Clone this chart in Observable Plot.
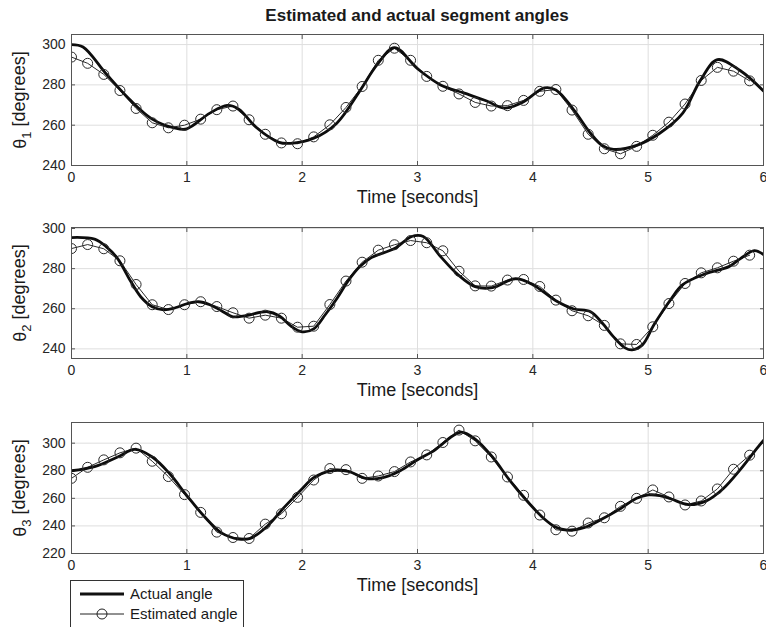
<!DOCTYPE html>
<html>
<head>
<meta charset="utf-8">
<script src="https://cdn.jsdelivr.net/npm/d3@7"></script>
<script src="https://cdn.jsdelivr.net/npm/@observablehq/plot@0.6"></script>
<style>
  body { margin: 0; width: 766px; height: 627px; position: relative; overflow: hidden; background: white;
         font-family: "Liberation Sans", Arial, sans-serif; color: #262626; }
  #title { position: absolute; left: 71px; top: 6px; width: 692px; text-align: center; font-weight: bold; font-size: 17px; line-height: 20px; color: #1a1a1a; }
  .panel { position: absolute; left: 0; }
  #legend { position: absolute; left: 70px; top: 580px; width: 172px; height: 52px; border: 1px solid #333; background: white; }
  #legend .row { position: absolute; left: 0; height: 20px; font-size: 15px; line-height: 20px; }
  #legend svg { position: absolute; left: 0; top: 0; }
  #legend span { position: absolute; left: 59px; top: 0; white-space: nowrap; color: #1a1a1a; }
</style>
</head>
<body>
<div id="title">Estimated and actual segment angles</div>
<div id="p1" class="panel" style="top:24px"></div>
<div id="p2" class="panel" style="top:217.3px"></div>
<div id="p3" class="panel" style="top:411.7px"></div>
<div id="legend">
  <div class="row" style="top:3px">
    <svg width="58" height="20"><line x1="9" x2="53" y1="10" y2="10" stroke="#111" stroke-width="3"/></svg>
    <span>Actual angle</span>
  </div>
  <div class="row" style="top:23px">
    <svg width="58" height="20"><line x1="9" x2="53" y1="10" y2="10" stroke="#222" stroke-width="1"/><circle cx="31" cy="10" r="5" fill="none" stroke="#222" stroke-width="1"/></svg>
    <span>Estimated angle</span>
  </div>
</div>
<script>
// ---- Data ----
const xTicks = [0, 1, 2, 3, 4, 5, 6];
const yTicks12 = [240, 260, 280, 300];
const yTicks3 = [220, 240, 260, 280, 300];
const ySubs = ["1", "2", "3"];
const yUnit = " [degrees]";
const xLabel = "Time [seconds]";

const estTime = [0,0.14,0.28,0.42,0.56,0.70,0.84,0.98,1.12,1.26,1.40,1.54,1.68,1.82,1.96,2.10,2.24,2.38,2.52,2.66,2.80,2.94,3.08,3.22,3.36,3.50,3.64,3.78,3.92,4.06,4.20,4.34,4.48,4.62,4.76,4.90,5.04,5.18,5.32,5.46,5.60,5.74,5.88];

const est1 = [293.8,290.7,285.2,277.2,268.3,261.2,258.7,260,263,267.7,269.5,262.7,255.5,251.2,250.8,254.2,260.2,268.8,279.2,292.2,298.2,292.2,284.2,279.3,275.5,271.3,269.5,269.7,272.3,276.8,277.7,267.5,255.5,248.3,245.8,249.5,255,261.5,270.5,282.2,288.7,286.8,282];
const est2 = [290,292,289.9,283.9,272.1,262,259.6,262,263.5,261.1,258,255.3,256.8,255.3,250.8,251.3,262.1,273.8,283.2,289.2,291.9,294,292.9,288.9,278.7,271.4,271.3,274.3,274.6,271.1,264.3,259,256.5,251.7,242.5,242.2,251,262.6,272.6,277.9,280.4,283.7,286.7];
const est3 = [274.5,282.5,287.9,293,296.4,286.9,275.8,262.7,249.8,235.5,231.6,230.9,241.3,248.8,260.7,273.3,281.6,280.8,274.5,276.2,279.4,286.4,291.5,300.5,309.5,301.7,290,275.5,262.2,247.9,237.2,236.2,242.1,245.9,254.2,260,266.1,261,255.2,258.1,266.8,281.1,291.3];

const act1T = [0,0.1,0.3,0.5,0.7,0.9,1.0,1.2,1.35,1.45,1.6,1.8,1.9,2.1,2.3,2.5,2.65,2.8,3.0,3.2,3.4,3.6,3.75,3.9,4.1,4.2,4.35,4.5,4.6,4.7,4.9,5.1,5.3,5.45,5.6,5.8,6.0];
const act1V = [300,298.8,285.5,273,263,258.5,258.2,266,269.8,268,259,251.5,251,253.5,261,277,290,298.5,288,280,276,272,268.5,271,278.5,277.5,268,256,250,248,250,256,266,282,292.5,287,277];

const act2T = [0,0.2,0.3,0.4,0.5,0.6,0.7,0.8,0.9,1.0,1.1,1.2,1.3,1.4,1.5,1.7,1.8,1.9,2.0,2.1,2.2,2.3,2.4,2.5,2.6,2.8,2.95,3.05,3.2,3.35,3.5,3.65,3.85,4.0,4.2,4.35,4.5,4.6,4.7,4.8,4.86,4.95,5.05,5.2,5.3,5.5,5.7,5.8,5.92,6.0];
const act2V = [295.5,294.7,291,285,275,266,261,259.5,260.5,262.5,263.5,262,259,256,256.5,258.5,256.5,251.5,248.5,250,257,265,274,281,285.5,290,296,296,286,277,271,270.5,275,272,264,260,258.5,253,246,240.5,239.5,242,252,265,272,277.5,281,285,289,287];

const act3T = [0,0.2,0.4,0.55,0.7,0.85,1.0,1.15,1.3,1.45,1.55,1.7,1.85,2.0,2.1,2.25,2.4,2.55,2.7,2.85,3.0,3.15,3.3,3.38,3.5,3.65,3.8,3.95,4.1,4.2,4.3,4.45,4.6,4.75,4.9,5.0,5.1,5.2,5.35,5.5,5.65,5.8,5.95,6.0];
const act3V = [280,283,290,295.5,290,278,262,247,235,230.5,231,240,254,267,275,280,279.5,274.5,275,280,288,295,305,308,303,290,273,258,245,239,237,239,245,252,260,262.5,262,259.5,255.5,258,267,281,297,302];

// ---- Chart ----
function panel(actT, actV, est, yDomain, yTicks, sub) {
  const act = actT.map((t, i) => ({t, v: actV[i]}));
  const estD = estTime.map((t, i) => ({t, v: est[i]}));
  const svg = Plot.plot({
    width: 766, height: 194,
    marginTop: 10, marginBottom: 53, marginLeft: 71, marginRight: 3,
    style: {fontFamily: "'Liberation Sans', Arial, sans-serif", fontSize: "14px", color: "#262626", background: "transparent", overflow: "visible"},
    x: {domain: [0, 6]},
    y: {domain: yDomain},
    marks: [
      Plot.gridX(xTicks, {stroke: "#dedede", strokeOpacity: 1}),
      Plot.gridY(yTicks, {stroke: "#dedede", strokeOpacity: 1}),
      Plot.axisX(xTicks, {anchor: "bottom", tickSize: 0, tickPadding: 7, label: null, tickFormat: d => String(d), fontSize: 14}),
      Plot.axisX(xTicks, {anchor: "bottom", tickSize: -4, fill: "none", label: null, stroke: "#555"}),
      Plot.axisX(xTicks, {anchor: "top", tickSize: -4, fill: "none", label: null, stroke: "#555"}),
      Plot.axisY(yTicks, {anchor: "left", tickSize: 0, tickPadding: 6, label: null, tickFormat: d => String(d), fontSize: 14}),
      Plot.axisY(yTicks, {anchor: "left", tickSize: -4, fill: "none", label: null, stroke: "#555"}),
      Plot.axisY(yTicks, {anchor: "right", tickSize: -4, fill: "none", label: null, stroke: "#555"}),
      Plot.line(estD, {x: "t", y: "v", stroke: "#2a2a2a", strokeWidth: 1, clip: true}),
      Plot.line(act, {x: "t", y: "v", stroke: "#0d0d0d", strokeWidth: 2.8, curve: "catmull-rom", clip: true}),
      Plot.dot(estD, {x: "t", y: "v", r: 5, stroke: "#2a2a2a", strokeWidth: 1, fill: "none", clip: true}),
      Plot.frame({stroke: "#555", strokeWidth: 1}),
      Plot.text([xLabel], {frameAnchor: "bottom", dy: 32, fontSize: 18, lineAnchor: "middle", fill: "#1a1a1a"}),
      Plot.text(["θ" + sub + yUnit], {frameAnchor: "left", dx: -51, rotate: -90, fontSize: 18, lineAnchor: "middle", textAnchor: "middle", fill: "#1a1a1a", className: "ylab"})
    ]
  });
  // render the subscript of the y label as a real subscript tspan
  d3.select(svg).selectAll(".ylab text").each(function() {
    const t = d3.select(this);
    t.text(null);
    t.append("tspan").text("θ");
    t.append("tspan").attr("font-size", 13).attr("dy", "0.35em").text(sub);
    t.append("tspan").attr("dy", "-0.35em").text(yUnit);
  });
  return svg;
}

document.getElementById("p1").appendChild(panel(act1T, act1V, est1, [240, 305], yTicks12, ySubs[0]));
document.getElementById("p2").appendChild(panel(act2T, act2V, est2, [235.2, 300.5], yTicks12, ySubs[1]));
document.getElementById("p3").appendChild(panel(act3T, act3V, est3, [220, 315], yTicks3, ySubs[2]));
</script>
</body>
</html>
